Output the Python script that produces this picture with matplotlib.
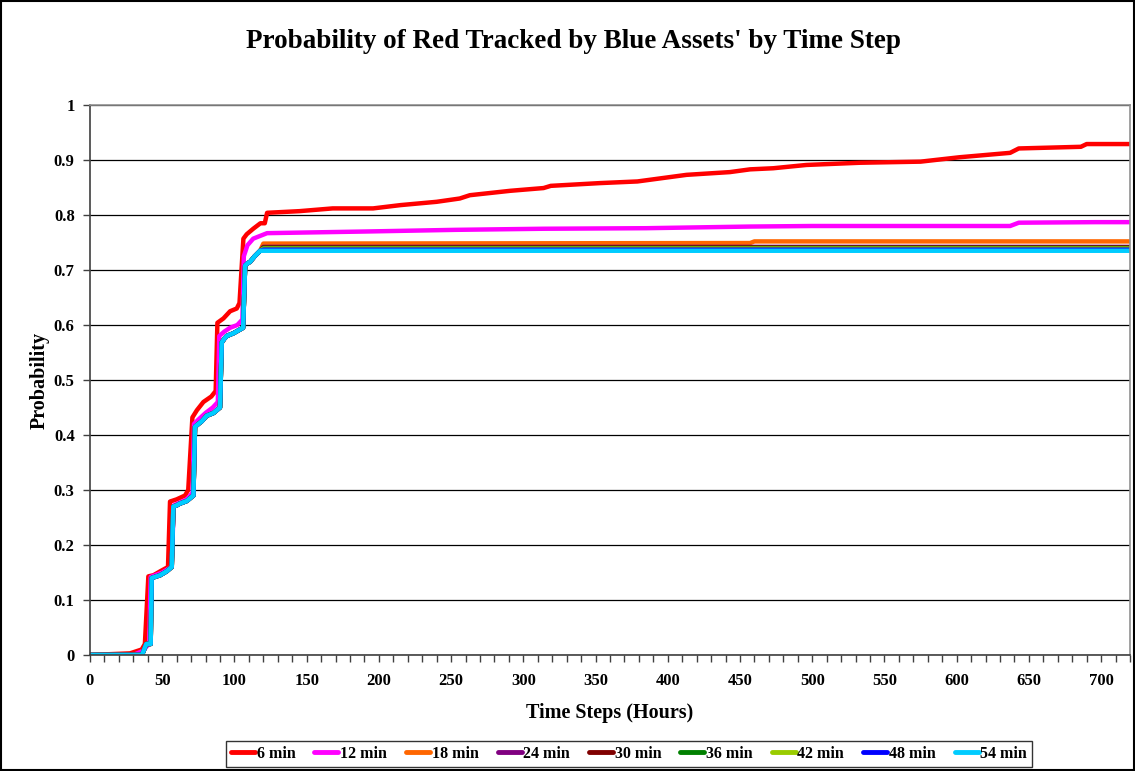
import matplotlib
matplotlib.use('Agg')
import matplotlib.pyplot as plt
from matplotlib.ticker import MultipleLocator
from matplotlib.patches import Rectangle

plt.rcParams['font.family'] = ['Liberation Serif', 'DejaVu Serif']
plt.rcParams['font.weight'] = 'bold'

# ---- data (time step, probability) ----
t_6 = [0, 27.7, 35.8, 38, 40.4, 43.9, 48.5, 54, 55.4, 60, 65.8, 68, 70.9, 74, 78.5,
       84, 87, 88.2, 92.4, 97, 101.6, 103.5, 106.2, 108.5, 113, 118, 121, 122.6, 145,
       168, 196, 215, 240, 256, 263, 291, 314, 319, 353, 379, 413, 443, 457, 473, 496,
       533, 575, 602, 637, 643, 686, 690, 720]
p_6 = [0, 0.003, 0.01, 0.02, 0.143, 0.145, 0.152, 0.16, 0.279, 0.283, 0.29, 0.3, 0.432,
       0.445, 0.46, 0.47, 0.48, 0.604, 0.612, 0.625, 0.63, 0.64, 0.757, 0.765, 0.775,
       0.785, 0.785, 0.804, 0.807, 0.812, 0.812, 0.818, 0.824, 0.83, 0.836, 0.844, 0.849,
       0.853, 0.858, 0.861, 0.873, 0.878, 0.883, 0.885, 0.891, 0.895, 0.897, 0.905, 0.913,
       0.921, 0.924, 0.929, 0.929]

t_12 = [0, 30, 37, 39, 41, 42, 45, 50, 55, 56.5, 58, 62, 67, 71, 72, 75, 80, 85, 88.5,
        89.5, 93, 97, 102, 105.5, 106.5, 109, 113, 122.6, 191, 253, 314, 385, 457, 500,
        637, 643, 696, 720]
p_12 = [0, 0, 0.008, 0.015, 0.02, 0.142, 0.145, 0.15, 0.158, 0.162, 0.272, 0.277, 0.283,
        0.295, 0.42, 0.428, 0.44, 0.45, 0.46, 0.58, 0.588, 0.595, 0.6, 0.61, 0.725, 0.745,
        0.757, 0.767, 0.77, 0.773, 0.775, 0.776, 0.779, 0.78, 0.78, 0.786, 0.787, 0.787]

# shared rise for the 18..54 min runs (they overlap almost exactly)
t_mid = [0, 36, 37.5, 39, 42, 42.7, 45, 48.5, 53, 56.6, 57.7, 60, 62, 67, 71.6, 72.7, 75,
         77.4, 80.8, 85.5, 90, 91.2, 93, 94.7, 99.3, 106, 107.4, 109, 110.9, 114, 117.8]
p_mid = [0, 0, 0.01, 0.02, 0.02, 0.14, 0.142, 0.145, 0.152, 0.16, 0.27, 0.272, 0.275, 0.28,
         0.29, 0.415, 0.42, 0.425, 0.435, 0.44, 0.45, 0.568, 0.575, 0.58, 0.585, 0.595,
         0.708, 0.712, 0.715, 0.725, 0.735]

# late plateau for each run
t_18_tail = [120, 457, 460, 720]
p_18_tail = [0.748, 0.749, 0.752, 0.752]
t_24_tail = [120, 720]
p_24_tail = [0.742, 0.742]
t_30_tail = [120, 720]
p_30_tail = [0.741, 0.741]
t_36_tail = [120, 720]
p_36_tail = [0.740, 0.740]
t_42_tail = [120, 720]
p_42_tail = [0.739, 0.739]
t_48_tail = [120, 720]
p_48_tail = [0.737, 0.737]
t_54_tail = [120, 720]
p_54_tail = [0.735, 0.735]

labels = ['6 min', '12 min', '18 min', '24 min', '30 min', '36 min', '42 min', '48 min', '54 min']
colors = ['#FF0000', '#FF00FF', '#FF6600', '#800080', '#800000', '#008000', '#99CC00',
          '#0000FF', '#00CCFF']
yticks = [0, 0.1, 0.2, 0.3, 0.4, 0.5, 0.6, 0.7, 0.8, 0.9, 1]
ytick_labels = ['0', '0.1', '0.2', '0.3', '0.4', '0.5', '0.6', '0.7', '0.8', '0.9', '1']

series = [(t_6, p_6), (t_12, p_12)]
for tt, pt in [(t_18_tail, p_18_tail), (t_24_tail, p_24_tail), (t_30_tail, p_30_tail),
               (t_36_tail, p_36_tail), (t_42_tail, p_42_tail), (t_48_tail, p_48_tail),
               (t_54_tail, p_54_tail)]:
    series.append((t_mid + tt, p_mid + pt))

fig = plt.figure(figsize=(11.35, 7.71), dpi=100)
ax = fig.add_axes([90 / 1135, 116 / 771, 1040 / 1135, 550 / 771])

for (t, p), lab, c in zip(series, labels, colors):
    ax.plot(t, p, color=c, lw=3.2, label=lab, solid_joinstyle='round')

ax.set_xlim(0, 720)
ax.set_ylim(0, 1)
ax.xaxis.set_major_locator(MultipleLocator(50))
ax.xaxis.set_minor_locator(MultipleLocator(10))
ax.set_yticks(yticks)
ax.set_yticklabels(ytick_labels)
ax.tick_params(axis='both', which='both', direction='out', length=5, width=1,
               color='#404040', labelsize=12)
ax.tick_params(axis='x', pad=8)
ax.tick_params(axis='y', pad=6)
ax.grid(axis='y', color='black', lw=0.9)
ax.set_axisbelow(True)

ax.spines['left'].set_color('#404040')
ax.spines['bottom'].set_color('#404040')
ax.spines['top'].set_color('#909090')
ax.spines['right'].set_color('#909090')
for s in ax.spines.values():
    s.set_linewidth(1.2)

ax.set_xlabel('Time Steps (Hours)', fontsize=14.5, fontweight='bold', labelpad=10)
ax.set_ylabel('Probability', fontsize=14.5, fontweight='bold', labelpad=3)

fig.text(574 / 1135, 1 - 42 / 771, "Probability of Red Tracked by Blue Assets' by Time Step",
         ha='center', va='center', fontsize=19.5, fontweight='bold')

leg = fig.legend(loc='center', bbox_to_anchor=(629 / 1135, 1 - 754 / 771), ncol=9,
                 fontsize=11.5, frameon=True, fancybox=False, handlelength=1.5,
                 handletextpad=0.1, columnspacing=1.2, borderpad=0.3, borderaxespad=0)
leg.get_frame().set_edgecolor('black')
leg.get_frame().set_linewidth(1)
for h in leg.get_lines():
    h.set_linewidth(3.5)
    h.set_solid_capstyle('round')

fig.add_artist(Rectangle((0.001, 0.001), 0.998, 0.998, transform=fig.transFigure,
                         fill=False, edgecolor='black', lw=1.5))

fig.savefig('out.png', dpi=100)
